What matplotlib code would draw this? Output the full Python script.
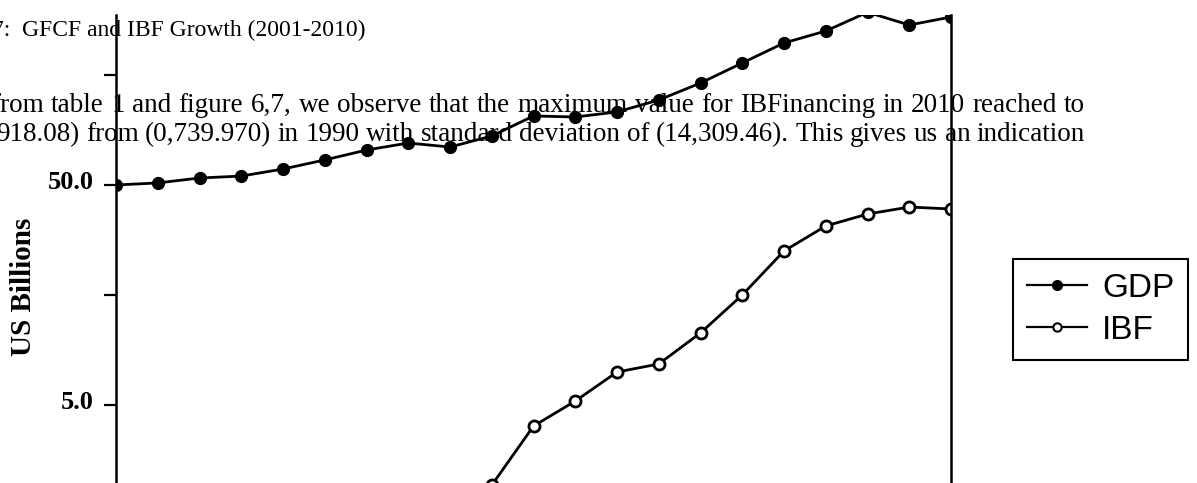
import matplotlib
matplotlib.use("Agg")
import matplotlib.pyplot as plt
from matplotlib.lines import Line2D
from matplotlib.transforms import IdentityTransform, ScaledTranslation

# values (US billions, log axis)
years = list(range(1990, 2011))
gdp = [50.0, 51.1, 53.8, 54.9, 59.1, 65.0, 72.1, 77.6, 74.4, 83.5, 103.0,
       101.9, 107.4, 121.7, 145.4, 179.3, 221.1, 250.6, 305.0, 266.8, 290.1]
ibf = [0.74, 0.85, 0.95, 1.05, 1.15, 1.3, 1.45, 1.6, 1.8, 2.16, 4.01,
       5.21, 7.06, 7.68, 10.63, 15.81, 25.06, 32.56, 36.9, 39.7, 38.9]
series_names = ["GDP", "IBF"]
ytick_vals = [5.0, 15.81, 50.0, 158.1]
ytick_labels = ["5.0", "", "50.0", ""]

caption = "7:  GFCF and IBF Growth (2001-2010)"
body_lines = [
    "from table 1 and figure 6,7, we observe that the maximum value for IBFinancing in 2010 reached to",
    "918.08) from (0,739.970) in 1990 with standard deviation of (14,309.46). This gives us an indication",
]

W, H = 1197, 483
fig = plt.figure(figsize=(W / 100, H / 100), dpi=100)
serif = "Liberation Serif"
px = IdentityTransform()

# text of the page behind the chart
fig.text(-8, H - 36, caption, transform=px, fontsize=17, family=serif,
         va="baseline", ha="left")


def justify(text, y, x0, x1, size):
    words = text.split()
    arts = [fig.text(0, H - y, w, transform=px, fontsize=size, family=serif,
                     va="baseline", ha="left") for w in words]
    r = fig.canvas.get_renderer()
    widths = [a.get_window_extent(r).width for a in arts]
    gap = (x1 - x0 - sum(widths)) / (len(words) - 1)
    x = x0
    for a, w in zip(arts, widths):
        a.set_x(x)
        x += w + gap


justify(body_lines[0], 112, -9, 1085, 19.5)
justify(body_lines[1], 141, -4, 1085, 19.5)

# chart
ax = fig.add_axes([116 / W, 0, (951 - 116) / W, (H - 15) / H])
ax.set_facecolor("none")
ax.plot(years, gdp, color="black", lw=2, marker="o", ms=8.5,
        mfc="black", mec="black")
ax.plot(years, ibf, color="black", lw=2, marker="o", ms=8,
        mfc="white", mec="black", mew=2)
ax.set_yscale("log")
ax.set_xlim(1990, 2010)
ax.set_ylim(2.21, 296.3)
ax.set_xticks([])
ax.minorticks_off()
ax.set_yticks(ytick_vals)
ax.set_yticklabels(ytick_labels, family=serif, fontweight="bold", fontsize=19)
ax.tick_params(axis="y", length=9, width=1.6, pad=7, direction="out")
lift = ScaledTranslation(0, 5 / 100, fig.dpi_scale_trans)
for lbl in ax.get_yticklabels():
    lbl.set_transform(lbl.get_transform() + lift)
ax.spines["top"].set_visible(False)
ax.spines["bottom"].set_visible(False)
for s in ("left", "right"):
    ax.spines[s].set_linewidth(1.8)

fig.text(24, H - 287, "US Billions", transform=px, rotation=90,
         family=serif, fontweight="bold", fontsize=21, ha="center", va="center")

handles = [
    Line2D([], [], color="black", lw=1.6, marker="o", ms=7, mfc="black"),
    Line2D([], [], color="black", lw=1.6, marker="o", ms=6, mfc="white", mew=1.5),
]
leg = fig.legend(handles, series_names, loc="upper left",
                 bbox_to_anchor=(1013 / W, 1 - 259 / H),
                 prop={"family": "Liberation Sans", "size": 24},
                 fancybox=False, edgecolor="black", framealpha=1,
                 handlelength=1.8, handletextpad=0.45, borderpad=0.42,
                 labelspacing=0.33, borderaxespad=0)
leg.get_frame().set_linewidth(1.5)

fig.savefig("out.png", dpi=100)
